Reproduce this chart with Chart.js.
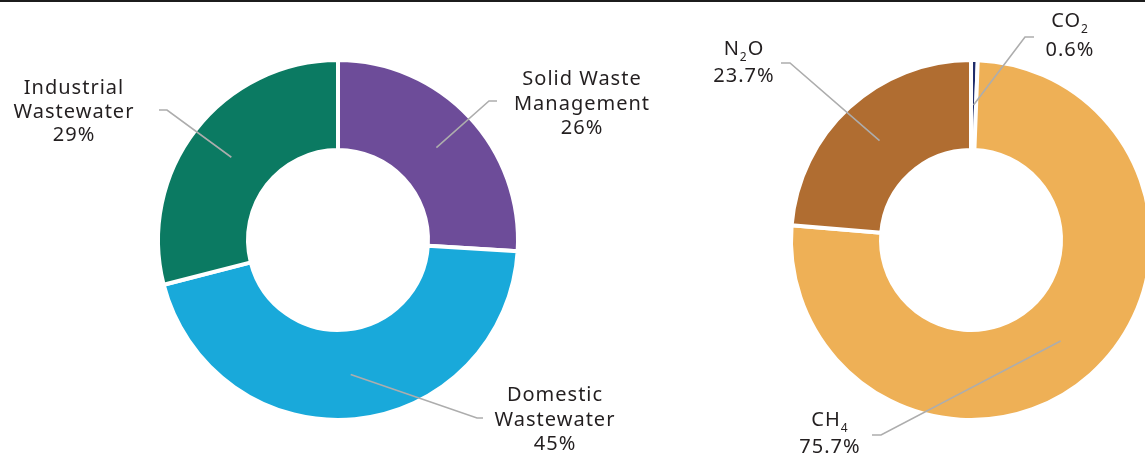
<!DOCTYPE html>
<html>
<head>
<meta charset="utf-8">
<script src="https://cdn.jsdelivr.net/npm/chart.js@4.4.1/dist/chart.umd.min.js"></script>
<style>
    html, body { margin: 0; padding: 0; background: #fff; }
    body { width: 1145px; height: 457px; overflow: hidden; position: relative; }
    .raya { position: absolute; left: 0; top: 0; width: 1145px; height: 2px; background: #1c1c1c; }
    canvas { position: absolute; top: 0; }
    #graficoResiduos { left: 0; }
    #graficoGases { left: 633px; }
</style>
</head>
<body>
<div class="raya"></div>
<canvas id="graficoResiduos" width="676" height="457"></canvas>
<canvas id="graficoGases" width="676" height="457"></canvas>

<script>
//datos
const nombresResiduos = [['Solid Waste', 'Management'], ['Domestic', 'Wastewater'], ['Industrial', 'Wastewater']];
const valoresResiduos = [26, 45, 29];
const coloresResiduos = ['#6d4c99', '#19a9da', '#0b7a62'];

const nombresGases = [[['CO', { sub: '2' }]], [['CH', { sub: '4' }]], [['N', { sub: '2' }, 'O']]];
const valoresGases = [0.6, 75.7, 23.7];
const coloresGases = ['#1f2d6b', '#eeb056', '#b06d31'];

const fuente = '"Noto Sans", sans-serif';
const espaciado = '1px';

//etiquetas con linea guia
const etiquetasPlugin = {
    id: 'etiquetas',
    afterDraw(chart, args, opts) {
        const ctx = chart.ctx;
        const arcos = chart.getDatasetMeta(0).data;
        ctx.save();
        arcos.forEach((arco, i) => {
            const pos = opts.posiciones[i];
            const { x, y } = arco.getProps(['x', 'y'], true);
            const punto = arco.tooltipPosition(true);

            //linea guia
            ctx.strokeStyle = '#adadad';
            ctx.lineWidth = 1.6;
            ctx.beginPath();
            ctx.moveTo(x + pos.guia[0], y + pos.guia[1]);
            ctx.lineTo(x + pos.guia[0] + pos.guia[2], y + pos.guia[1]);
            ctx.lineTo(punto.x, punto.y);
            ctx.stroke();

            //texto
            const lineas = [...opts.textos[i], [chart.data.datasets[0].data[i] + '%']];
            ctx.fillStyle = '#231f20';
            ctx.textBaseline = 'alphabetic';
            ctx.textAlign = 'left';
            const fijarFuente = p => {
                if (typeof p === 'string') {
                    ctx.font = `20px ${fuente}`;
                    ctx.letterSpacing = espaciado;
                } else {
                    ctx.font = `12px ${fuente}`;
                    ctx.letterSpacing = '0px';
                }
            };
            lineas.forEach((partes, j) => {
                const base = y + pos.texto[1] + j * pos.alto;
                let ancho = 0;
                partes.forEach(p => {
                    fijarFuente(p);
                    ancho += ctx.measureText(typeof p === 'string' ? p : p.sub).width + (typeof p === 'string' ? 0 : 1);
                });
                let cx = x + pos.texto[0] - ancho / 2;
                partes.forEach(p => {
                    fijarFuente(p);
                    if (typeof p === 'string') {
                        ctx.fillText(p, cx, base);
                        cx += ctx.measureText(p).width;
                    } else {
                        ctx.fillText(p.sub, cx, base + 6);
                        cx += ctx.measureText(p.sub).width + 1;
                    }
                });
            });
        });
        ctx.restore();
    }
};

function crearDona(id, etiquetas, valores, colores, textos, posiciones) {
    const ctx = document.getElementById(id).getContext('2d');
    return new Chart(ctx, {
        type: 'doughnut',
        data: {
            labels: etiquetas,
            datasets: [{
                data: valores,
                backgroundColor: colores,
                borderColor: '#ffffff',
                borderWidth: 4
            }]
        },
        options: {
            responsive: false,
            animation: false,
            radius: 180,
            cutout: '50%',
            layout: { padding: { top: 23 } },
            plugins: {
                legend: { display: false },
                tooltip: { enabled: false },
                etiquetas: { textos, posiciones }
            }
        },
        plugins: [etiquetasPlugin]
    });
}

//graficos
crearDona('graficoResiduos',
    nombresResiduos.map(n => n.join(' ')), valoresResiduos, coloresResiduos,
    nombresResiduos.map(n => n.map(t => [t])),
    [
        { texto: [244, -155], alto: 24.5, guia: [159, -139, -8] },
        { texto: [217, 161], alto: 24.5, guia: [145, 178, -6] },
        { texto: [-264, -146], alto: 23.5, guia: [-179, -130, 8] }
    ]);

crearDona('graficoGases',
    ['CO2', 'CH4', 'N2O'], valoresGases, coloresGases,
    nombresGases,
    [
        { texto: [99, -213], alto: 29, guia: [63, -203, -9] },
        { texto: [-141, 186], alto: 27, guia: [-99, 195, 9] },
        { texto: [-227, -185], alto: 27, guia: [-190, -177, 9] }
    ]);
</script>
</body>
</html>
